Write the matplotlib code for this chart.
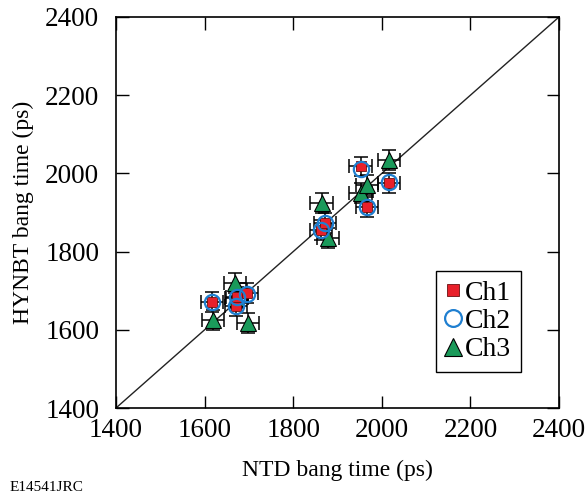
import matplotlib
matplotlib.use("Agg")
import matplotlib.pyplot as plt
import numpy as np

plt.rcParams['font.family'] = ['Liberation Serif', 'DejaVu Serif']

# NTD vs HYNBT bang times (ps)
ch1_x = [1616, 1671, 1673, 1695, 1862, 1871, 1952, 1966, 2016]
ch1_y = [1671, 1661, 1684, 1694, 1855, 1873, 2018, 1914, 1976]
ch2_x = [1616, 1671, 1673, 1695, 1862, 1871, 1952, 1966, 2016]
ch2_y = [1670, 1660, 1683, 1692, 1854, 1872, 2012, 1913, 1978]
ch3_x = [1619, 1668, 1672, 1698, 1864, 1878, 1952, 1966, 2016]
ch3_y = [1625, 1720, 1682, 1617, 1924, 1835, 1950, 1970, 2034]
err_x = 25
err_y = 25

fig = plt.figure(figsize=(5.85, 4.96), dpi=100)
ax = fig.add_axes([116 / 585, 1 - 408 / 496, 443 / 585, 391 / 496])

ax.plot([1400, 2400], [1400, 2400], color='#222222', lw=1.0, zorder=1)

eb = dict(fmt='none', ecolor='black', elinewidth=1.1, capsize=5, capthick=1.1, zorder=2)
ax.errorbar(ch3_x, ch3_y, xerr=err_x, yerr=err_y, **eb)
ax.errorbar(ch1_x, ch1_y, xerr=err_x, yerr=err_y, **eb)

ax.plot(ch1_x, ch1_y, 's', ms=7.5, mfc='#e8202a', mec='#6a1010', mew=0.6,
        ls='none', label='Ch1', zorder=4)
ax.plot(ch2_x, ch2_y, 'o', ms=11, mfc='none', mec='#1f7fd0', mew=1.6,
        ls='none', label='Ch2', zorder=5)
ax.plot(ch3_x, ch3_y, '^', ms=12, mfc='#1a9a5a', mec='black', mew=0.8,
        ls='none', label='Ch3', zorder=3)

ax.set_xlim(1400, 2400)
ax.set_ylim(1400, 2400)
ax.set_xticks(np.arange(1400, 2401, 200))
ax.set_yticks(np.arange(1400, 2401, 200))
ax.tick_params(direction='in', length=9, width=1.0, top=True, right=True,
               labelsize=19.5)
ax.tick_params(axis='y', pad=12)
ax.tick_params(axis='x', pad=7)
for s in ax.spines.values():
    s.set_linewidth(1.2)

ax.set_xlabel('NTD bang time (ps)', fontsize=17, labelpad=12)
ax.set_ylabel('HYNBT bang time (ps)', fontsize=17, labelpad=8)

leg = ax.legend(loc='lower right', bbox_to_anchor=(0.914, 0.092),
                borderaxespad=0, fontsize=20, handlelength=0.5,
                handletextpad=0.2, labelspacing=0.1, fancybox=False,
                edgecolor='black', framealpha=1, borderpad=0.35,
                markerscale=1.1)
leg.get_frame().set_linewidth(1.0)

fig.text(10 / 585, 1 - 491 / 496, 'E14541JRC', fontsize=11, va='baseline')

fig.savefig('out.png', dpi=100)
